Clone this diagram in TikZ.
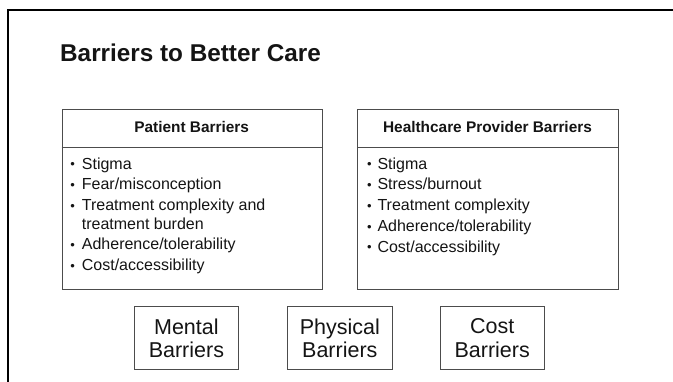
\documentclass[tikz,border=0pt]{standalone}
\usepackage{fontspec}
\setmainfont{Liberation Sans}
\begin{document}
\begin{tikzpicture}[x=1pt,y=-1pt,
  frameline/.style={line width=2pt,black},
  boxline/.style={draw=black!70,line width=0.8pt},
  ttl/.style={anchor=base west,inner sep=0pt,font=\fontsize{24.3}{28}\selectfont\bfseries,text=black!92},
  hdr/.style={anchor=base,inner sep=0pt,font=\fontsize{15.4}{18}\selectfont\bfseries,text=black!92},
  itm/.style={anchor=base west,inner sep=0pt,font=\fontsize{16}{19}\selectfont,text=black!92},
  bul/.style={anchor=base west,inner sep=0pt,font=\fontsize{13}{15}\selectfont,text=black!92},
  smallbox/.style={boxline,rectangle,minimum width=104.5pt,minimum height=62.5pt,inner sep=0pt,align=center,font=\fontsize{21.5}{23.3}\selectfont,text=black!92}
]
\useasboundingbox (0,0) rectangle (673,382);
% outer frame
\coordinate (fbl) at (8,382);
\coordinate (ftl) at (8,10.5);
\coordinate (ftr) at (673,10.5);
\draw[frameline] (fbl) -- (ftl) -- (ftr);
% title
\node[ttl] (title) at (60,62) {Barriers to Better Care};
% left box
\node[boxline,rectangle,minimum width=260pt,minimum height=180pt,inner sep=0pt,anchor=north west] (pb) at (61.7,109.3) {};
\coordinate (pbsl) at (61.7,147);
\coordinate (pbsr) at (321.7,147);
\draw[boxline] (pbsl) -- (pbsr);
\node[hdr] (pbh) at (191.7,132.9) {Patient Barriers};
\node[bul] (pb1b) at (70.2,168.9) {•};
\node[itm] (pb1) at (81.7,169.3) {Stigma};
\node[bul] (pb2b) at (70.2,189.6) {•};
\node[itm] (pb2) at (81.7,190) {Fear/misconception};
\node[bul] (pb3b) at (70.2,210.6) {•};
\node[itm] (pb3) at (81.7,211) {Treatment complexity and};
\node[itm] (pb3c) at (81.7,229.3) {treatment burden};
\node[bul] (pb4b) at (70.2,249.6) {•};
\node[itm] (pb4) at (81.7,250) {Adherence/tolerability};
\node[bul] (pb5b) at (70.2,270.3) {•};
\node[itm] (pb5) at (81.7,270.7) {Cost/accessibility};
% right box
\node[boxline,rectangle,minimum width=260.4pt,minimum height=180pt,inner sep=0pt,anchor=north west] (hb) at (357.3,109.3) {};
\coordinate (hbsl) at (357.3,147.3);
\coordinate (hbsr) at (617.7,147.3);
\draw[boxline] (hbsl) -- (hbsr);
\node[hdr] (hbh) at (487.5,132.9) {Healthcare Provider Barriers};
\node[bul] (hb1b) at (366.8,168.9) {•};
\node[itm] (hb1) at (377.3,169.3) {Stigma};
\node[bul] (hb2b) at (366.8,189.6) {•};
\node[itm] (hb2) at (377.3,190) {Stress/burnout};
\node[bul] (hb3b) at (366.8,210.6) {•};
\node[itm] (hb3) at (377.3,211) {Treatment complexity};
\node[bul] (hb4b) at (366.8,231.3) {•};
\node[itm] (hb4) at (377.3,231.7) {Adherence/tolerability};
\node[bul] (hb5b) at (366.8,252) {•};
\node[itm] (hb5) at (377.3,252.4) {Cost/accessibility};
% bottom boxes
\node[smallbox] (mb) at (186.4,338) {Mental\\Barriers};
\node[smallbox] (phb) at (339.8,338) {Physical\\Barriers};
\node[smallbox] (cb) at (492.2,338) {Cost\\Barriers};
\end{tikzpicture}
\end{document}
